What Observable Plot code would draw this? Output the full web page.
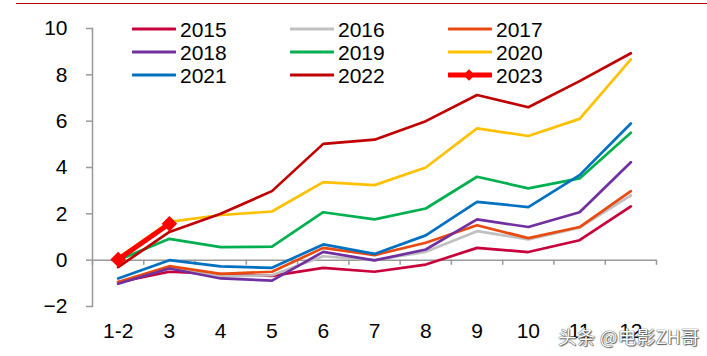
<!DOCTYPE html>
<html>
<head>
<meta charset="utf-8">
<script src="https://cdn.jsdelivr.net/npm/d3@7"></script>
<script src="https://cdn.jsdelivr.net/npm/@observablehq/plot@0.6"></script>
<style>
  html, body { margin: 0; padding: 0; background: #fff; }
  #wrap { position: relative; width: 707px; height: 356px; overflow: hidden; font-family: "Liberation Sans", Arial, sans-serif; }
  #topline { position: absolute; left: 16px; top: 3px; width: 691px; height: 0; border-top: 1px solid #c00000; }
  .leg { position: absolute; display: flex; align-items: center; font-size: 21px; color: #000; line-height: 1; }
  .leg svg { margin-right: 4px; }
  #wm { position: absolute; left: 558px; top: 323px; font-size: 18.5px; color: #fff; font-family: "Noto Sans CJK SC", sans-serif;
        text-shadow: 0 0 1px #444, 0 0 1px #444, 1px 1px 1px #666; white-space: nowrap; letter-spacing: 0.3px; }
</style>
</head>
<body>
<div id="wrap"><div id="topline"></div></div>
<script>
const categories = ["1-2", "3", "4", "5", "6", "7", "8", "9", "10", "11", "12"];
const years = ["2015", "2016", "2017", "2018", "2019", "2020", "2021", "2022", "2023"];
const s2015 = [-0.95, -0.5, -0.6, -0.68, -0.33, -0.5, -0.19, 0.53, 0.35, 0.86, 2.32];
const s2016 = [-0.95, -0.3, -0.7, -0.65, 0.17, 0.0, 0.36, 1.25, 0.9, 1.4, 2.8];
const s2017 = [-0.94, -0.26, -0.59, -0.5, 0.53, 0.22, 0.75, 1.51, 0.95, 1.43, 2.98];
const s2018 = [-1.02, -0.36, -0.79, -0.88, 0.36, -0.01, 0.46, 1.76, 1.43, 2.07, 4.23];
const s2019 = [0.0, 0.92, 0.56, 0.58, 2.07, 1.76, 2.23, 3.6, 3.1, 3.53, 5.5];
const s2020 = [0.1, 1.65, 1.95, 2.1, 3.37, 3.24, 4.0, 5.69, 5.36, 6.1, 8.67];
const s2021 = [-0.79, 0.0, -0.27, -0.33, 0.68, 0.27, 1.07, 2.52, 2.29, 3.67, 5.9];
const s2022 = [-0.3, 1.22, 2.0, 2.98, 5.02, 5.2, 6.0, 7.13, 6.6, 7.73, 8.93];
const s2023 = [0.03, 1.57];
const yTicks = [-2, 0, 2, 4, 6, 8, 10];
const colors = ["#c8003c", "#c0c0c0", "#e84a10", "#7030a0", "#00b050", "#ffc000", "#0070c0", "#c00000", "#ff0000"];
const seriesList = [s2015, s2016, s2017, s2018, s2019, s2020, s2021, s2022, s2023];

const rows = [];
seriesList.forEach((s, k) => s.forEach((v, i) => rows.push({ i, v, year: years[k] })));
const idx = categories.map((c, i) => i);
const bounds = [-1, ...idx].map(i => i + 0.5);

const marks = [
  Plot.frame({ anchor: "left", stroke: "#999", strokeWidth: 1.5 }),
  Plot.axisY({ ticks: yTicks, tickSize: 6, tickPadding: 19, stroke: "#999", fill: "#000", strokeWidth: 1.5, label: null }),
  Plot.axisX({ ticks: idx, tickFormat: i => categories[i], tickSize: 0, tickPadding: 17, fill: "#000", label: null }),
  Plot.ruleY([0], { stroke: "#999", strokeWidth: 1.5 }),
  Plot.ruleX(bounds, { y1: 0, y2: -0.22, stroke: "#999", strokeWidth: 1.5 })
];
years.forEach((yr, k) => {
  const data = rows.filter(d => d.year === yr);
  marks.push(Plot.line(data, { x: "i", y: "v", stroke: colors[k], strokeWidth: yr === "2023" ? 5 : 2.7 }));
  if (yr === "2023") marks.push(Plot.dot(data, { x: "i", y: "v", symbol: "diamond2", r: 6, fill: colors[k], stroke: colors[k] }));
});

const chart = Plot.plot({
  width: 707, height: 356,
  marginLeft: 92, marginRight: 51, marginTop: 28, marginBottom: 50,
  x: { domain: [-0.5, 10.5] },
  y: { domain: [-2, 10] },
  style: { fontFamily: "'Liberation Sans', Arial, sans-serif", fontSize: "21px", color: "#000", background: "transparent" },
  marks
});
const wrap = document.getElementById("wrap");
chart.style.position = "absolute";
chart.style.left = "0px";
chart.style.top = "0px";
wrap.appendChild(chart);

// legend (3 columns x 3 rows)
const colX = [132, 290, 448];
const rowY = [29, 52, 75];
years.forEach((yr, k) => {
  const c = k % 3, r = Math.floor(k / 3);
  const div = document.createElement("div");
  div.className = "leg";
  div.style.left = colX[c] + "px";
  div.style.top = (rowY[r] - 10) + "px";
  div.style.height = "20px";
  const w = yr === "2023" ? 5 : 3;
  const dia = yr === "2023" ? `<rect x="17" y="4" width="8" height="8" fill="${colors[k]}" transform="rotate(45 21 8)"/>` : "";
  div.innerHTML = `<svg width="44" height="16"><line x1="1" y1="8" x2="43" y2="8" stroke="${colors[k]}" stroke-width="${w}" stroke-linecap="round"/>${dia}</svg><span>${yr}</span>`;
  wrap.appendChild(div);
});
const wm = document.createElement("div");
wm.id = "wm";
wm.textContent = "头条 @电影ZH哥";
wrap.appendChild(wm);
</script>
</body>
</html>
